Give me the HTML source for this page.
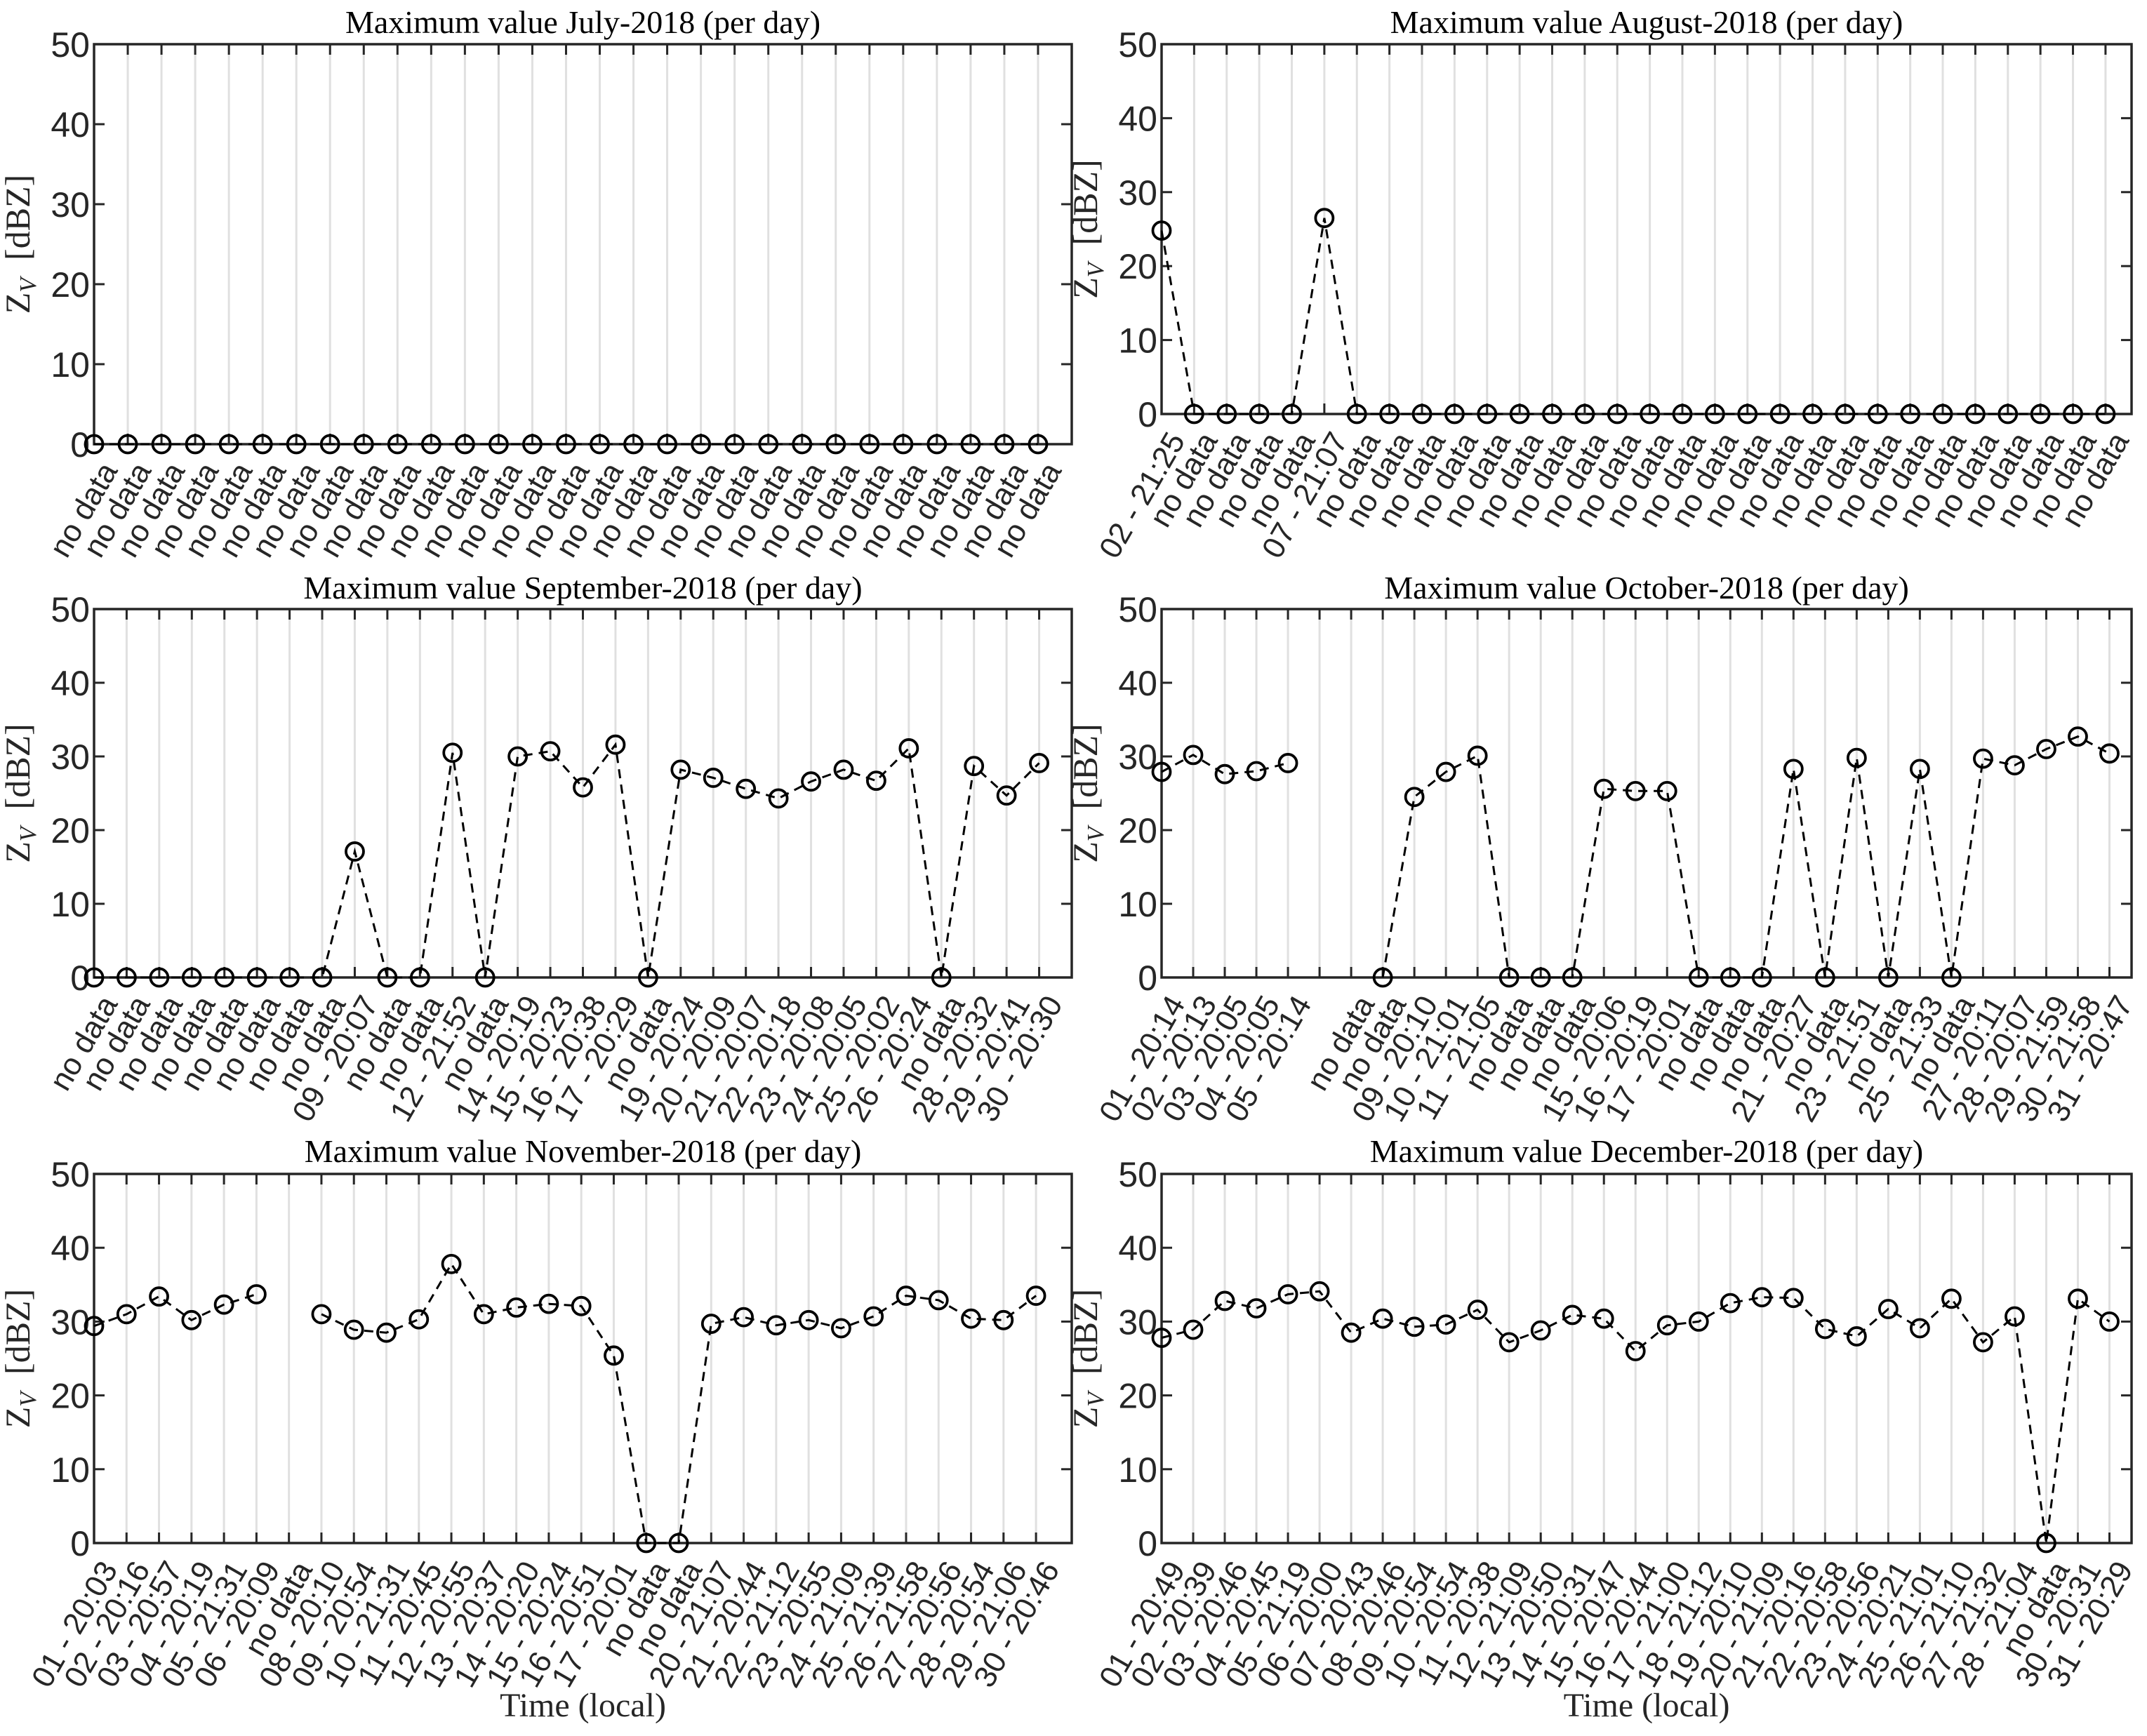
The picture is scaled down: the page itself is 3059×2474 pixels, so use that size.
<!DOCTYPE html>
<html><head><meta charset="utf-8"><style>
html,body{margin:0;padding:0;background:#fff;}
svg{display:block;}
</style></head><body>
<svg id="fig" width="3059" height="2474" viewBox="0 0 3059 2474" xmlns="http://www.w3.org/2000/svg"></svg>
<script>
const julLabels = Array(29).fill('no data');
const julValues = Array(29).fill(0);
const augLabels = ['02 - 21:25','no data','no data','no data','no data','07 - 21:07'].concat(Array(24).fill('no data'));
const augValues = [24.8,0,0,0,0,26.5].concat(Array(24).fill(0));
const sepLabels = ['no data','no data','no data','no data','no data','no data','no data','no data','09 - 20:07','no data','no data','12 - 21:52','no data','14 - 20:19','15 - 20:23','16 - 20:38','17 - 20:29','no data','19 - 20:24','20 - 20:09','21 - 20:07','22 - 20:18','23 - 20:08','24 - 20:05','25 - 20:02','26 - 20:24','no data','28 - 20:32','29 - 20:41','30 - 20:30'];
const sepValues = [0,0,0,0,0,0,0,0,17.1,0,0,30.5,0,30.0,30.7,25.8,31.6,0,28.2,27.1,25.6,24.3,26.6,28.2,26.7,31.1,0,28.7,24.7,29.1];
const octLabels = ['01 - 20:14','02 - 20:13','03 - 20:05','04 - 20:05','05 - 20:14','','no data','no data','09 - 20:10','10 - 21:01','11 - 21:05','no data','no data','no data','15 - 20:06','16 - 20:19','17 - 20:01','no data','no data','no data','21 - 20:27','no data','23 - 21:51','no data','25 - 21:33','no data','27 - 20:11','28 - 20:07','29 - 21:59','30 - 21:58','31 - 20:47'];
const octValues = [27.9,30.2,27.6,28.0,29.1,null,null,0,24.5,27.9,30.1,0,0,0,25.6,25.3,25.3,0,0,0,28.3,0,29.8,0,28.3,0,29.7,28.8,31.0,32.7,30.4];
const novLabels = ['01 - 20:03','02 - 20:16','03 - 20:57','04 - 20:19','05 - 21:31','06 - 20:09','no data','08 - 20:10','09 - 20:54','10 - 21:31','11 - 20:45','12 - 20:55','13 - 20:37','14 - 20:20','15 - 20:24','16 - 20:51','17 - 20:01','no data','no data','20 - 21:07','21 - 20:44','22 - 21:12','23 - 20:55','24 - 21:09','25 - 21:39','26 - 21:58','27 - 20:56','28 - 20:54','29 - 21:06','30 - 20:46'];
const novValues = [29.4,31.0,33.4,30.2,32.3,33.7,null,31.0,28.9,28.5,30.3,37.8,31.0,31.9,32.4,32.1,25.4,0,0,29.7,30.6,29.5,30.2,29.1,30.7,33.5,32.9,30.4,30.2,33.5];
const decLabels = ['01 - 20:49','02 - 20:39','03 - 20:46','04 - 20:45','05 - 21:19','06 - 20:00','07 - 20:43','08 - 20:46','09 - 20:54','10 - 20:54','11 - 20:38','12 - 21:09','13 - 20:50','14 - 20:31','15 - 20:47','16 - 20:44','17 - 21:00','18 - 21:12','19 - 20:10','20 - 21:09','21 - 20:16','22 - 20:58','23 - 20:56','24 - 20:21','25 - 21:01','26 - 21:10','27 - 21:32','28 - 21:04','no data','30 - 20:31','31 - 20:29'];
const decValues = [27.8,28.9,32.8,31.8,33.7,34.1,28.5,30.4,29.3,29.6,31.6,27.2,28.8,30.9,30.4,26.0,29.5,30.0,32.5,33.3,33.2,29.0,28.0,31.7,29.1,33.1,27.2,30.7,0,33.1,30.0];
const yTicks = [0,10,20,30,40,50];

const NS='http://www.w3.org/2000/svg';
const svg=document.getElementById('fig');
function mk(tag,attrs,parent){const e=document.createElementNS(NS,tag);for(const k in attrs)e.setAttribute(k,attrs[k]);(parent||svg).appendChild(e);return e;}

const panels=[
 {key:'jul',title:'Maximum value July-2018 (per day)',labels:julLabels,values:julValues,L:134,R:1527,T:63,B:633,xmax:30,tY:47,xl:false},
 {key:'aug',title:'Maximum value August-2018 (per day)',labels:augLabels,values:augValues,L:1655,R:3037,T:63,B:590,xmax:30.8,tY:47,xl:false},
 {key:'sep',title:'Maximum value September-2018 (per day)',labels:sepLabels,values:sepValues,L:134,R:1527,T:868,B:1393,xmax:31.0,tY:853,xl:false},
 {key:'oct',title:'Maximum value October-2018 (per day)',labels:octLabels,values:octValues,L:1655,R:3037,T:868,B:1393,xmax:31.7,tY:853,xl:false},
 {key:'nov',title:'Maximum value November-2018 (per day)',labels:novLabels,values:novValues,L:134,R:1527,T:1673,B:2199,xmax:31.1,tY:1656,xl:true},
 {key:'dec',title:'Maximum value December-2018 (per day)',labels:decLabels,values:decValues,L:1655,R:3037,T:1673,B:2199,xmax:31.7,tY:1656,xl:true}
];

panels.forEach(p=>{
  const g=mk('g',{});
  
  
  const xs=i=>p.L+(i-1)*(p.R-p.L)/(p.xmax-1);
  const ys=v=>p.B-v*(p.B-p.T)/50;
  const n=p.labels.length;
  for(let i=2;i<=n;i++){
    const l=mk('line',{x1:xs(i),x2:xs(i),y1:p.T,y2:p.B,stroke:'#e0e0e0','stroke-width':3},g);
    
    
  }
  for(let i=1;i<=n;i++){
    mk('line',{x1:xs(i),x2:xs(i),y1:p.B,y2:p.B-15,stroke:'#262626','stroke-width':3},g);
    mk('line',{x1:xs(i),x2:xs(i),y1:p.T,y2:p.T+15,stroke:'#262626','stroke-width':3},g);
  }
  yTicks.forEach(t=>{
    mk('line',{x1:p.L,x2:p.L+15,y1:ys(t),y2:ys(t),stroke:'#262626','stroke-width':3},g);
    mk('line',{x1:p.R,x2:p.R-15,y1:ys(t),y2:ys(t),stroke:'#262626','stroke-width':3},g);
    const tx=mk('text',{x:p.L-6,y:ys(t)+18,'text-anchor':'end','font-family':'Liberation Sans, sans-serif','font-size':50,fill:'#262626'},g);
    tx.textContent=t;
    
    
  });
  const box=mk('rect',{x:p.L,y:p.T,width:p.R-p.L,height:p.B-p.T,fill:'none',stroke:'#262626','stroke-width':3.5},g);
  
  
  let d='';let pen=false;
  p.values.forEach((v,i)=>{
    if(v===null){pen=false;return;}
    d+=(pen?'L':'M')+xs(i+1).toFixed(1)+' '+ys(v).toFixed(1)+' ';pen=true;
  });
  const path=mk('path',{d:d,fill:'none',stroke:'#000','stroke-width':3,'stroke-dasharray':'13 9'},g);
  
  
  p.values.forEach((v,i)=>{
    if(v===null)return;
    const c=mk('circle',{cx:xs(i+1),cy:ys(v),r:12.5,fill:'none',stroke:'#000','stroke-width':3.8},g);
    
    
  });
  p.labels.forEach((lab,i)=>{
    const x=xs(i+1)+22,y=p.B+30;
    const t=mk('text',{x:x,y:y,'text-anchor':'end','dominant-baseline':'central','font-family':'Liberation Sans, sans-serif','font-size':44,fill:'#262626',transform:`rotate(-60 ${x} ${y})`},g);
    t.textContent=lab;
    
    
  });
  const tt=mk('text',{x:(p.L+p.R)/2,y:p.tY,'text-anchor':'middle','font-family':'Liberation Serif, serif','font-size':46,fill:'#000'},g);
  tt.textContent=p.title;
  
  
  const yx=p.L-92, yy=(p.T+p.B)/2;
  const yl=mk('text',{x:yx,y:yy,'text-anchor':'middle','font-family':'Liberation Serif, serif','font-size':50,fill:'#262626',transform:`rotate(-90 ${yx} ${yy})`},g);
  
  
  const s1=mk('tspan',{},yl);s1.textContent='Z';
  const s2=mk('tspan',{'font-size':34,'font-style':'italic',dy:9},yl);s2.textContent='V';
  const s3=mk('tspan',{dy:-9},yl);s3.textContent='\u00a0\u00a0[dBZ]';
  if(p.xl){
    const xt=mk('text',{x:(p.L+p.R)/2,y:2446,'text-anchor':'middle','font-family':'Liberation Serif, serif','font-size':48,fill:'#262626'},g);
    xt.textContent='Time (local)';
    
    
  }
});
</script>
</body></html>
